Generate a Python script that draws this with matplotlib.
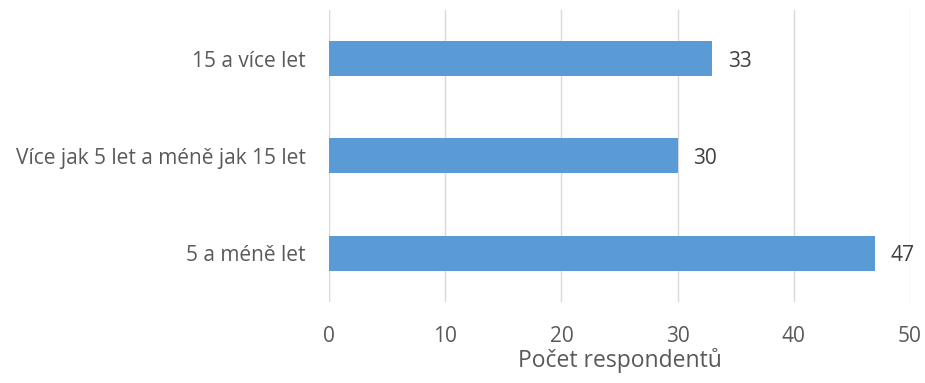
import matplotlib.pyplot as plt

categories = ["5 a méně let", "Více jak 5 let a méně jak 15 let", "15 a více let"]
values = [47, 30, 33]
xticks = [0, 10, 20, 30, 40, 50]

plt.rcParams['font.family'] = ['Open Sans', 'DejaVu Sans']
text_color = "#595959"

fig = plt.figure(figsize=(9.25, 3.83), dpi=100)
ax = fig.add_axes([0.3557, 0.2115, 0.6281, 0.7625])

pos = range(len(categories))
bars = ax.barh(pos, values, height=0.36, color="#5B9BD5", zorder=3)
for b, v in zip(bars, values):
    ax.text(b.get_width() + 1.3, b.get_y() + b.get_height() / 2, str(v),
            va="center_baseline", ha="left", fontsize=15, color="#404040")

ax.set_yticks(list(pos))
ax.set_yticklabels(categories, fontsize=15, color=text_color)
ax.set_xticks(xticks)
ax.set_xticklabels([str(t) for t in xticks], fontsize=15, color=text_color)
ax.set_xlim(0, 50)
ax.set_ylim(-0.5, 2.5)
ax.set_xlabel("Počet respondentů", fontsize=16.5, color=text_color, labelpad=1)
ax.tick_params(axis="both", length=0)
ax.tick_params(axis="x", pad=17)
ax.tick_params(axis="y", pad=17)
ax.grid(axis="x", color="#D9D9D9", linewidth=1, zorder=0)
for s in ax.spines.values():
    s.set_visible(False)

fig.savefig("out.png", dpi=100)
